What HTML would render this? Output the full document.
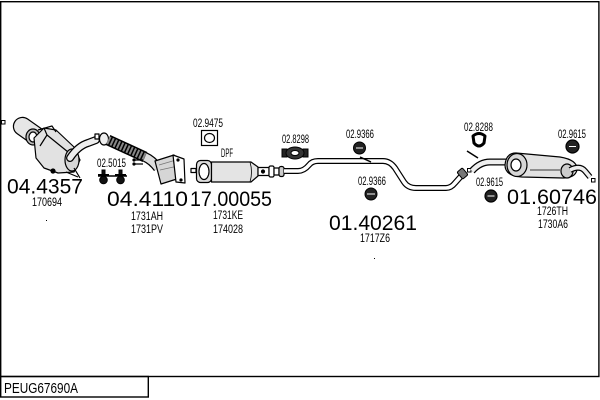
<!DOCTYPE html>
<html><head><meta charset="utf-8"><style>
html,body{margin:0;padding:0;background:#fff;}
svg{display:block;}
text{font-family:"Liberation Sans",Arial,sans-serif;fill:#000;}
.big{font-size:21px;}
.sm{font-size:11.5px;}
</style></head><body>
<svg width="600" height="400" viewBox="0 0 600 400" xmlns="http://www.w3.org/2000/svg">
<rect x="0" y="0" width="600" height="400" fill="#fff"/>
<!-- frame -->
<rect x="0.7" y="1.7" width="598.2" height="374.8" fill="none" stroke="#000" stroke-width="1.4"/>
<rect x="0.7" y="376.5" width="147.6" height="20.5" fill="none" stroke="#000" stroke-width="1.4"/>
<text x="4" y="393" style="font-size:15px" textLength="74" lengthAdjust="spacingAndGlyphs">PEUG67690A</text>

<!-- small squares -->
<rect x="1.5" y="120.5" width="3.5" height="3.5" fill="none" stroke="#000" stroke-width="1"/>
<rect x="591.5" y="178.5" width="3.5" height="3.5" fill="none" stroke="#000" stroke-width="1"/>

<!-- Part A: pre-cat 04.4357 -->
<g stroke="#000" stroke-width="1.2" stroke-linejoin="round">
  <rect x="12" y="122" width="34" height="18" rx="9" transform="rotate(35 29 131)" fill="#e6e6e6"/>
  <ellipse cx="33" cy="137" rx="7" ry="8" fill="#bbb"/>
  <ellipse cx="33" cy="137" rx="4" ry="5" fill="#fff"/>
  <path d="M34,138 L44,128 L56,130 L74,147 L80,160 L74,172 L58,173 L44,168 L36,158 Z" fill="#e2e2e2"/>
  <path d="M44,128 L47,135 L40,146 M47,135 L68,152 L70,170" fill="none"/>
  <path d="M38,130 L52,126 L56,132" fill="none"/>
  <ellipse cx="72" cy="160" rx="7" ry="11" fill="#d6d6d6"/>
  <path d="M70,158 Q78,146 88,143 L96,140" fill="none" stroke="#000" stroke-width="8" stroke-linecap="round"/>
  <path d="M70,158 Q78,146 88,143 L96,140" fill="none" stroke="#eee" stroke-width="5.5" stroke-linecap="round"/>
  <path d="M66,172 L78,177 M74,168 L80,178" fill="none"/>
  <circle cx="53" cy="171" r="2" fill="#000"/>
</g>
<text class="big" x="7" y="193.5" textLength="76" lengthAdjust="spacingAndGlyphs">04.4357</text>
<text class="sm" x="32" y="206" textLength="30" lengthAdjust="spacingAndGlyphs">170694</text>
<rect x="46" y="220" width="1" height="1" fill="#000"/>

<!-- Part B: flex pipe + cat 04.4110 -->
<g stroke="#000" stroke-width="1.2" stroke-linejoin="round">
  <rect x="95" y="134" width="4" height="5" fill="#fff"/>
  <ellipse cx="104" cy="139" rx="4.5" ry="6" fill="#eee"/>
  <path d="M108,140 L145,157" fill="none" stroke="#000" stroke-width="11"/>
  <path d="M108,140 L145,157" fill="none" stroke="#888" stroke-width="8" stroke-dasharray="2 1.5"/>
  <path d="M145,157 Q152,160 158,168" fill="none" stroke="#000" stroke-width="10"/>
  <path d="M145,157 Q152,160 158,168" fill="none" stroke="#ddd" stroke-width="7.5"/>
  <path d="M155,161 L174,155 L180,178 L161,184 Z" fill="#d6d6d6"/>
  <path d="M159,165 L176,160 M160,170 L178,166" fill="none" stroke="#777" stroke-width="0.8"/>
  <path d="M173,155 L184,159 L185,183 L176,182 Z" fill="#fff"/>
  <circle cx="178" cy="160" r="1" fill="#000"/>
  <circle cx="181" cy="180" r="1" fill="#000"/>
  <path d="M133,160 L143,160 M133,164 L143,164" fill="none"/>
  <circle cx="134" cy="160" r="1" fill="#000"/>
  <circle cx="134" cy="164" r="1" fill="#000"/>
</g>
<!-- bolts 02.5015 -->
<g fill="#111" stroke="#000" stroke-width="1">
  <path d="M98,176 L127,176" fill="none" stroke-width="1.5"/>
  <rect x="102" y="170" width="3" height="8"/>
  <circle cx="103.5" cy="180" r="3.8"/>
  <path d="M98,175 L109,175" fill="none" stroke-width="2"/>
  <rect x="119" y="170" width="3" height="8"/>
  <circle cx="120.5" cy="180" r="3.8"/>
  <path d="M115,175 L126,175" fill="none" stroke-width="2"/>
</g>
<text class="sm" x="97" y="167" textLength="29" lengthAdjust="spacingAndGlyphs">02.5015</text>
<text class="big" x="107" y="206" textLength="81" lengthAdjust="spacingAndGlyphs">04.4110</text>
<text class="sm" x="131" y="220" textLength="32" lengthAdjust="spacingAndGlyphs">1731AH</text>
<text class="sm" x="131" y="233" textLength="32" lengthAdjust="spacingAndGlyphs">1731PV</text>

<!-- gasket 02.9475 -->
<g stroke="#000" stroke-width="1.2">
  <rect x="201.5" y="130.5" width="16" height="15" fill="#fff"/>
  <ellipse cx="209.5" cy="138" rx="5" ry="4.5" fill="#fff"/>
</g>
<text class="sm" x="193" y="127" textLength="30" lengthAdjust="spacingAndGlyphs">02.9475</text>

<!-- DPF 17.00055 -->
<g stroke="#000" stroke-width="1.2" stroke-linejoin="round">
  <rect x="191" y="168.5" width="5" height="4" fill="#fff"/>
  <rect x="196.5" y="160.5" width="15" height="22" rx="4" fill="#ddd"/>
  <ellipse cx="204" cy="171.5" rx="5" ry="8" fill="#fff"/>
  <path d="M211.5,162 L251,162 L258,167 L258,176 L251,182 L211.5,182 Z" fill="#e4e4e4"/>
  <path d="M250,162 Q253,172 250,182" fill="none" stroke-width="0.8"/>
  <rect x="258" y="167.5" width="11" height="8" fill="#fff"/>
  <circle cx="263" cy="171.5" r="1.5" fill="#000"/>
  <rect x="269" y="166" width="5" height="11" rx="1.5" fill="#fff"/>
  <rect x="274" y="168" width="5" height="7" fill="#fff"/>
  <rect x="279" y="166.5" width="5" height="10" rx="2" fill="#ccc"/>
</g>
<text class="sm" x="221" y="157" textLength="12" lengthAdjust="spacingAndGlyphs">DPF</text>
<text class="big" x="190" y="206" textLength="82" lengthAdjust="spacingAndGlyphs">17.00055</text>
<text class="sm" x="213" y="219" textLength="30" lengthAdjust="spacingAndGlyphs">1731KE</text>
<text class="sm" x="213" y="233" textLength="30" lengthAdjust="spacingAndGlyphs">174028</text>

<!-- clamp 02.8298 -->
<g stroke="#000" stroke-width="1">
  <rect x="282" y="149" width="5" height="8" fill="#222"/>
  <rect x="303" y="149" width="5" height="8" fill="#222"/>
  <ellipse cx="295" cy="153" rx="9" ry="6" fill="#333"/>
  <ellipse cx="295" cy="153" rx="4" ry="2.5" fill="#fff"/>
</g>
<text class="sm" x="282" y="143" textLength="27" lengthAdjust="spacingAndGlyphs">02.8298</text>

<!-- middle pipe 01.40261 -->
<path d="M284,171 L298,171 Q304,171 309,165 Q312,161 318,161 L383,161 Q390,161 395,168 L404,182 Q408,188 416,188 L446,188 Q451,188 455,183 L463,174" fill="none" stroke="#000" stroke-width="6" stroke-linejoin="round"/>
<path d="M284,171 L298,171 Q304,171 309,165 Q312,161 318,161 L383,161 Q390,161 395,168 L404,182 Q408,188 416,188 L446,188 Q451,188 455,183 L463,174" fill="none" stroke="#fff" stroke-width="3.6" stroke-linejoin="round"/>
<g stroke="#000" stroke-width="1">
  <rect x="459" y="169" width="7" height="9" rx="1.5" transform="rotate(-40 462.5 173.5)" fill="#777"/>
  <rect x="467.5" y="168.5" width="3.5" height="3.5" fill="#fff"/>
</g>
<!-- hangers 02.9366 -->
<g stroke="#000" stroke-width="1">
  <circle cx="359.5" cy="148" r="6" fill="#222"/>
  <path d="M356,148 L363,148" stroke="#fff" stroke-width="1"/>
  <path d="M360,157 L371,162" fill="none" stroke-width="1.5"/>
  <circle cx="371" cy="194" r="6" fill="#222"/>
  <path d="M367,194 L375,194" stroke="#fff" stroke-width="1"/>
</g>
<text class="sm" x="346" y="138" textLength="28" lengthAdjust="spacingAndGlyphs">02.9366</text>
<text class="sm" x="358" y="185" textLength="28" lengthAdjust="spacingAndGlyphs">02.9366</text>
<text class="big" x="329" y="230" textLength="88" lengthAdjust="spacingAndGlyphs">01.40261</text>
<text class="sm" x="360" y="242" textLength="30" lengthAdjust="spacingAndGlyphs">1717Z6</text>
<rect x="374" y="258" width="1" height="1" fill="#000"/>

<!-- rear silencer 01.60746 -->
<g stroke="#000" stroke-width="1.2" stroke-linejoin="round">
  <path d="M467,151 L478,158" fill="none" stroke-width="1.5"/>
  <path d="M473,136 Q479,131 485,136 L484,143 Q479,149 474,143 Z" fill="#fff" stroke-width="3"/>
  <path d="M472,171 Q480,162 490,162 L506,162" fill="none" stroke="#000" stroke-width="7"/>
  <path d="M472,171 Q480,162 490,162 L506,162" fill="none" stroke="#eee" stroke-width="4.5"/>
  <path d="M516,153 L560,157 Q578,160 577,170 Q575,178 563,178 L522,177 Q505,176 505,165 Q506,153 516,153 Z" fill="#e2e2e2"/>
  <ellipse cx="517" cy="165" rx="10" ry="11.5" fill="#d6d6d6"/>
  <ellipse cx="516" cy="165" rx="5" ry="6" fill="#fff"/>
  <path d="M530,170 L560,170" fill="none" stroke-width="0.8"/>
  <ellipse cx="567" cy="171" rx="6" ry="7" fill="#ccc"/>
  <path d="M570,170 Q580,165 585,171 L590,177" fill="none" stroke="#000" stroke-width="6"/>
  <path d="M570,170 Q580,165 585,171 L590,177" fill="none" stroke="#eee" stroke-width="3.6"/>
  <circle cx="572.5" cy="146.5" r="6.5" fill="#222"/>
  <path d="M569,146.5 L576,146.5" stroke="#fff" stroke-width="1"/>
  <circle cx="491" cy="196" r="6" fill="#222"/>
  <path d="M487.5,196 L494.5,196" stroke="#fff" stroke-width="1"/>
</g>
<text class="sm" x="464" y="131" textLength="29" lengthAdjust="spacingAndGlyphs">02.8288</text>
<text class="sm" x="558" y="138" textLength="28" lengthAdjust="spacingAndGlyphs">02.9615</text>
<text class="sm" x="476" y="186" textLength="27" lengthAdjust="spacingAndGlyphs">02.9615</text>
<text class="big" x="507" y="204" textLength="90" lengthAdjust="spacingAndGlyphs">01.60746</text>
<text class="sm" x="537" y="215" textLength="31" lengthAdjust="spacingAndGlyphs">1726TH</text>
<text class="sm" x="538" y="228" textLength="30" lengthAdjust="spacingAndGlyphs">1730A6</text>
</svg>
</body></html>
